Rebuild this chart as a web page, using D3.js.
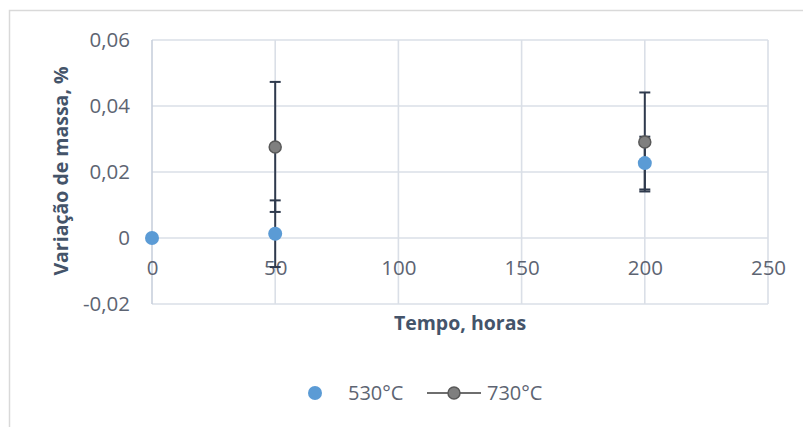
<!DOCTYPE html>
<html>
<head>
<meta charset="utf-8">
<script src="https://cdn.jsdelivr.net/npm/d3@7"></script>
<style>
  body { margin: 0; background: #fff; }
  svg { font-family: "Open Sans", sans-serif; }
</style>
</head>
<body>
<svg id="chart"></svg>
<script>
const horas = [0, 50, 200];
const serie530 = [0, 0.0013, 0.0227];
const erro530 = [0, 0.0101, 0.008];
const serie730 = [null, 0.0276, 0.0291];
const erro730 = [0, 0.0197, 0.015];
const xTicks = [0, 50, 100, 150, 200, 250];
const yTicks = [-0.02, 0, 0.02, 0.04, 0.06];
const legendLabels = ["530°C", "730°C"];

function drawChart() {
    const width = 803;
    const height = 427;
    const plot = { left: 152, right: 768, top: 40, bottom: 304 };
    const tickFont = "20.5px";
    const titleFont = "19.5px";

    const svg = d3.select("#chart")
        .attr("width", width)
        .attr("height", height);

    // moldura do gráfico
    svg.append("path")
        .attr("d", `M9.5,${height + 5} V10.5 H${width + 5}`)
        .attr("fill", "none")
        .attr("stroke", "#d9d9d9")
        .attr("stroke-width", 1.5);

    const x = d3.scaleLinear().domain([0, 250]).range([plot.left, plot.right]);
    const y = d3.scaleLinear().domain([-0.02, 0.06]).range([plot.bottom, plot.top]);

    const gridColor = "#dadfe7";

    svg.append("g")
        .selectAll("line")
        .data(yTicks)
        .enter().append("line")
        .attr("x1", plot.left)
        .attr("x2", plot.right)
        .attr("y1", d => y(d))
        .attr("y2", d => y(d))
        .attr("stroke", gridColor)
        .attr("stroke-width", 1.6);

    svg.append("g")
        .selectAll("line")
        .data(xTicks)
        .enter().append("line")
        .attr("x1", d => x(d))
        .attr("x2", d => x(d))
        .attr("y1", plot.top)
        .attr("y2", plot.bottom)
        .attr("stroke", d => d === 0 ? "#c8d0dc" : gridColor)
        .attr("stroke-width", 1.6);

    const fmt = d => d === 0 ? "0" : d3.format(".2f")(d).replace(".", ",").replace("−", "-");

    const axisX = d3.axisBottom(x).tickValues(xTicks).tickSize(0).tickPadding(22);
    const gX = svg.append("g")
        .attr("transform", `translate(0,${y(0)})`)
        .call(axisX);
    gX.select(".domain").remove();
    gX.selectAll("text")
        .attr("fill", "#5d6472")
        .style("font-size", tickFont)
        .style("font-family", "Open Sans");

    const axisY = d3.axisLeft(y).tickValues(yTicks).tickFormat(fmt).tickSize(0).tickPadding(22);
    const gY = svg.append("g")
        .attr("transform", `translate(${plot.left},0)`)
        .call(axisY);
    gY.select(".domain").remove();
    gY.selectAll("text")
        .attr("fill", "#5d6472")
        .style("font-size", tickFont)
        .style("font-family", "Open Sans");

    svg.append("text")
        .attr("x", 460)
        .attr("y", 323)
        .attr("dy", "0.35em")
        .attr("text-anchor", "middle")
        .attr("fill", "#44546a")
        .style("font-size", titleFont)
        .style("font-weight", "bold")
        .text("Tempo, horas");

    svg.append("text")
        .attr("transform", "translate(61,171) rotate(-90)")
        .attr("dy", "0.35em")
        .attr("text-anchor", "middle")
        .attr("fill", "#44546a")
        .style("font-size", titleFont)
        .style("font-weight", "bold")
        .text("Variação de massa, %");

    const errColor = "#2f3a4d";
    const capW = 5.5;

    function errorBars(values, errors) {
        const pts = horas.map((h, i) => ({ h, v: values[i], e: errors[i] }))
            .filter(d => d.v !== null && d.e > 0);
        const g = svg.append("g")
            .attr("stroke", errColor)
            .attr("stroke-width", 2);
        g.selectAll(".bar")
            .data(pts)
            .enter().append("line")
            .attr("x1", d => x(d.h))
            .attr("x2", d => x(d.h))
            .attr("y1", d => y(d.v - d.e))
            .attr("y2", d => y(d.v + d.e));
        g.selectAll(".capTop")
            .data(pts)
            .enter().append("line")
            .attr("x1", d => x(d.h) - capW)
            .attr("x2", d => x(d.h) + capW)
            .attr("y1", d => y(d.v + d.e))
            .attr("y2", d => y(d.v + d.e));
        g.selectAll(".capBottom")
            .data(pts)
            .enter().append("line")
            .attr("x1", d => x(d.h) - capW)
            .attr("x2", d => x(d.h) + capW)
            .attr("y1", d => y(d.v - d.e))
            .attr("y2", d => y(d.v - d.e));
    }

    errorBars(serie530, erro530);
    errorBars(serie730, erro730);

    const data730 = horas.map((h, i) => ({ h, v: serie730[i] })).filter(d => d.v !== null);
    svg.append("g")
        .selectAll("circle")
        .data(data730)
        .enter().append("circle")
        .attr("cx", d => x(d.h))
        .attr("cy", d => y(d.v))
        .attr("r", 6)
        .attr("fill", "#7f7f7f")
        .attr("stroke", "#595959")
        .attr("stroke-width", 1.5);

    const data530 = horas.map((h, i) => ({ h, v: serie530[i] }));
    svg.append("g")
        .selectAll("circle")
        .data(data530)
        .enter().append("circle")
        .attr("cx", d => x(d.h))
        .attr("cy", d => y(d.v))
        .attr("r", 7)
        .attr("fill", "#5b9bd5");

    // legenda
    const legY = 393;
    svg.append("circle")
        .attr("cx", 315)
        .attr("cy", legY)
        .attr("r", 7)
        .attr("fill", "#5b9bd5");
    svg.append("text")
        .attr("x", 348)
        .attr("y", legY)
        .attr("dy", "0.35em")
        .attr("fill", "#5d6472")
        .style("font-size", "20px")
        .text(legendLabels[0]);

    svg.append("line")
        .attr("x1", 427)
        .attr("x2", 481)
        .attr("y1", legY)
        .attr("y2", legY)
        .attr("stroke", "#6e6e6e")
        .attr("stroke-width", 2);
    svg.append("circle")
        .attr("cx", 454)
        .attr("cy", legY)
        .attr("r", 6)
        .attr("fill", "#7f7f7f")
        .attr("stroke", "#595959")
        .attr("stroke-width", 1.5);
    svg.append("text")
        .attr("x", 487)
        .attr("y", legY)
        .attr("dy", "0.35em")
        .attr("fill", "#5d6472")
        .style("font-size", "20px")
        .text(legendLabels[1]);
}

drawChart();
</script>
</body>
</html>
